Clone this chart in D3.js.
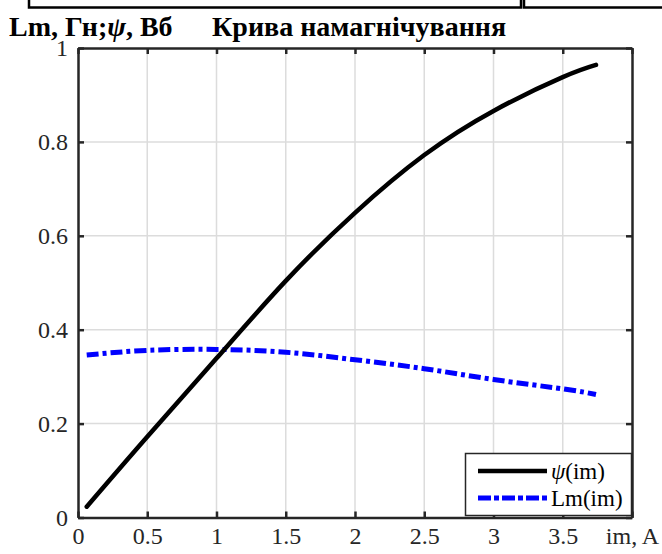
<!DOCTYPE html>
<html>
<head>
<meta charset="utf-8">
<script src="https://cdn.jsdelivr.net/npm/d3@7"></script>
<style>
  body { margin: 0; background: #fff; }
  svg { display: block; font-family: "Liberation Serif", "Times New Roman", serif; }
  .grid line { stroke: #dcdcdc; stroke-width: 1.5; }
  .axis path, .axis line { stroke: #262626; }
  .axis text { fill: #262626; font-size: 24px; font-family: "Liberation Serif", "Times New Roman", serif; }
</style>
</head>
<body>
<svg width="662" height="554"></svg>
<script>
// струм намагнічування, А
const imPsi = [0.063, 0.5, 1.0, 1.5, 2.0, 2.5, 3.0, 3.5, 3.74];
// потокозчеплення, Вб
const psiVals = [0.023, 0.172, 0.339, 0.504, 0.649, 0.772, 0.866, 0.938, 0.964];

const imLm = [0.063, 0.5, 1.0, 1.5, 2.0, 2.5, 3.0, 3.5, 3.74];
// індуктивність намагнічування, Гн
const lmVals = [0.346, 0.356, 0.358, 0.352, 0.336, 0.317, 0.294, 0.274, 0.262];

const xTicks = [0, 0.5, 1, 1.5, 2, 2.5, 3, 3.5, 4];
const yTicks = [0, 0.2, 0.4, 0.6, 0.8, 1];

const svg = d3.select("svg");
const margin = {left: 78, right: 30, top: 48, bottom: 36};
const W = 662, H = 554;

const x = d3.scaleLinear().domain([0, 4]).range([margin.left, W - margin.right]);
const y = d3.scaleLinear().domain([0, 1]).range([H - margin.bottom - 0.5, margin.top]);

// рамка зверху (залишок від сусіднього рисунка)
svg.append("path")
    .attr("d", "M29,0V7.5H521V0M524,0V7.5H662")
    .attr("fill", "none")
    .attr("stroke", "#000")
    .attr("stroke-width", 2.5);

// сітка
svg.append("g").attr("class", "grid")
    .selectAll("line").data(xTicks.slice(1, -1)).enter().append("line")
    .attr("x1", d => x(d)).attr("x2", d => x(d))
    .attr("y1", y(0)).attr("y2", y(1));
svg.append("g").attr("class", "grid")
    .selectAll("line").data(yTicks.slice(1, -1)).enter().append("line")
    .attr("x1", x(0)).attr("x2", x(4))
    .attr("y1", d => y(d)).attr("y2", d => y(d));

// осі
const xAxis = svg.append("g").attr("class", "axis")
    .attr("transform", `translate(0,${y(0)})`)
    .call(d3.axisBottom(x).tickValues(xTicks).tickSizeInner(-6).tickSizeOuter(0).tickPadding(14)
        .tickFormat(d => d === 4 ? "im, A" : d));
const yAxis = svg.append("g").attr("class", "axis")
    .attr("transform", `translate(${x(0)},0)`)
    .call(d3.axisLeft(y).tickValues(yTicks).tickSizeInner(-6).tickSizeOuter(0).tickPadding(10)
        .tickFormat(d => d));
svg.append("g").attr("class", "axis")
    .attr("transform", `translate(0,${y(1)})`)
    .call(d3.axisTop(x).tickValues(xTicks).tickSizeInner(-6).tickSizeOuter(0).tickFormat(""));
svg.append("g").attr("class", "axis")
    .attr("transform", `translate(${x(4)},0)`)
    .call(d3.axisRight(y).tickValues(yTicks).tickSizeInner(-6).tickSizeOuter(0).tickFormat(""));
svg.selectAll(".axis path.domain").attr("stroke-width", 2.5);
svg.selectAll(".axis .tick line").attr("stroke-width", 2.5);
xAxis.selectAll("text").attr("dy", "0.5em");

// криві
const line = d3.line().curve(d3.curveNatural);

svg.append("path")
    .datum(imLm.map((d, i) => [x(d), y(lmVals[i])]))
    .attr("d", line)
    .attr("fill", "none")
    .attr("stroke", "#0000ff")
    .attr("stroke-width", 5)
    .attr("stroke-dasharray", "12,4,4,4");

svg.append("path")
    .datum(imPsi.map((d, i) => [x(d), y(psiVals[i])]))
    .attr("d", line)
    .attr("fill", "none")
    .attr("stroke", "#000")
    .attr("stroke-width", 4.5)
    .attr("stroke-linecap", "round");

// заголовки
const title = svg.append("text")
    .attr("x", 9).attr("y", 36)
    .attr("font-size", 28).attr("font-weight", "bold").attr("fill", "#000");
title.append("tspan").text("Lm, Гн;");
title.append("tspan").attr("font-style", "italic").text("ψ");
title.append("tspan").text(", Вб");

svg.append("text")
    .attr("x", 212).attr("y", 36)
    .attr("font-size", 28).attr("font-weight", "bold").attr("fill", "#000")
    .text("Крива намагнічування");

// легенда
const lg = svg.append("g");
lg.append("rect")
    .attr("x", 465.5).attr("y", 453.5).attr("width", 166).attr("height", 62)
    .attr("fill", "#fff").attr("stroke", "#262626").attr("stroke-width", 1.5);
lg.append("line")
    .attr("x1", 478).attr("x2", 547).attr("y1", 471).attr("y2", 471)
    .attr("stroke", "#000").attr("stroke-width", 4.5);
lg.append("line")
    .attr("x1", 478).attr("x2", 547).attr("y1", 498).attr("y2", 498)
    .attr("stroke", "#0000ff").attr("stroke-width", 5).attr("stroke-dasharray", "13,3,5,3");
const t1 = lg.append("text").attr("x", 551).attr("y", 479).attr("font-size", 23).attr("fill", "#000");
t1.append("tspan").attr("font-style", "italic").text("ψ");
t1.append("tspan").text("(im)");
lg.append("text").attr("x", 551).attr("y", 506).attr("font-size", 23).attr("fill", "#000").text("Lm(im)");
</script>
</body>
</html>
